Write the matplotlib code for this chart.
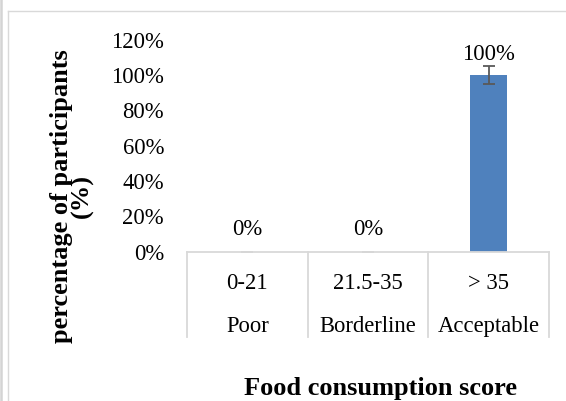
import matplotlib
matplotlib.use("Agg")
import matplotlib.pyplot as plt
from matplotlib.lines import Line2D
import matplotlib.transforms as mtransforms

# ---- data ----
score_ranges = ['0-21', '21.5-35', '> 35']
score_levels = ['Poor', 'Borderline', 'Acceptable']
values = [0, 0, 100]
errors = [0, 0, 5]
yticks = [0, 20, 40, 60, 80, 100, 120]
ytick_labels = ['0%', '20%', '40%', '60%', '80%', '100%', '120%']
value_labels = ['0%', '0%', '100%']
x_title = 'Food consumption score'
y_title = 'percentage of participants\n(%)'

plt.rcParams['font.family'] = ['Liberation Serif', 'DejaVu Serif']

W, H = 566, 401
fig = plt.figure(figsize=(W / 100, H / 100), dpi=100)

def fx(px):
    return px / W

def fy(py):
    return 1 - py / H

ax_left, ax_right, ax_bottom, ax_top = 187, 549, 251.7, 39.7
ax = fig.add_axes([fx(ax_left), fy(ax_bottom), (ax_right - ax_left) / W, (ax_bottom - ax_top) / H])

x = list(range(len(values)))
ax.bar(x, values, width=0.312, color='#4F81BD', zorder=2)
# error bars: zero-width ones sit under the axis line
for xi, v, e in zip(x, values, errors):
    ax.errorbar([xi], [v], yerr=[e], fmt='none', ecolor='#595959' if e > 0 else '#BFBFBF',
                elinewidth=1.3, capsize=4.2, capthick=1.3, zorder=3 if e > 0 else 1)

ax.set_xlim(-0.5, len(values) - 0.5)
ax.set_ylim(0, 120)
ax.set_yticks(yticks)
ax.set_yticklabels(ytick_labels, fontsize=16.3)
ax.tick_params(axis='y', length=0, pad=16.5)
ax.set_xticks([])

for s in ['top', 'right', 'left']:
    ax.spines[s].set_visible(False)
ax.spines['bottom'].set_color('#D9D9D9')
ax.spines['bottom'].set_linewidth(1.3)
ax.spines['bottom'].set_zorder(2.5)

# data labels
for xi, v, lab in zip(x, values, value_labels):
    off = 17 if v == 0 else 15
    ax.annotate(lab, (xi, v), xytext=(0, off), textcoords='offset pixels',
                ha='center', va='baseline', fontsize=16.3)

# multi-level category axis
trans = mtransforms.blended_transform_factory(ax.transData, ax.transAxes)
axh = ax_bottom - ax_top
sep_bottom = -(337 - ax_bottom) / axh
for b in [-0.5 + i for i in range(len(values) + 1)]:
    ax.add_line(Line2D([b, b], [0, sep_bottom], transform=trans, color='#D9D9D9',
                       lw=1.3, clip_on=False))
row1 = -(289 - ax_bottom) / axh
row2 = -(332 - ax_bottom) / axh
for xi, r, l in zip(x, score_ranges, score_levels):
    ax.text(xi, row1, r, transform=trans, ha='center', va='baseline', fontsize=16.3)
    ax.text(xi, row2, l, transform=trans, ha='center', va='baseline', fontsize=16.3)

# axis titles
fig.text(fx(380), fy(395), x_title, ha='center', va='baseline', fontsize=19,
         fontweight='bold')
fig.text(fx(72), fy(196.5), y_title, ha='center', va='center', rotation=90,
         fontsize=19, fontweight='bold', multialignment='center', linespacing=0.9)

# frame lines
fig.add_artist(Line2D([fx(7.5), fx(7.5)], [fy(11), 0], transform=fig.transFigure,
                      color='#D9D9D9', lw=1.0))
fig.add_artist(Line2D([fx(7.5), 1], [fy(11), fy(11)], transform=fig.transFigure,
                      color='#D9D9D9', lw=1.0))
fig.add_artist(Line2D([fx(1.3), fx(1.3)], [0, 1], transform=fig.transFigure,
                      color='#D4D4D4', lw=1.8))

fig.savefig('out.png', dpi=100)
